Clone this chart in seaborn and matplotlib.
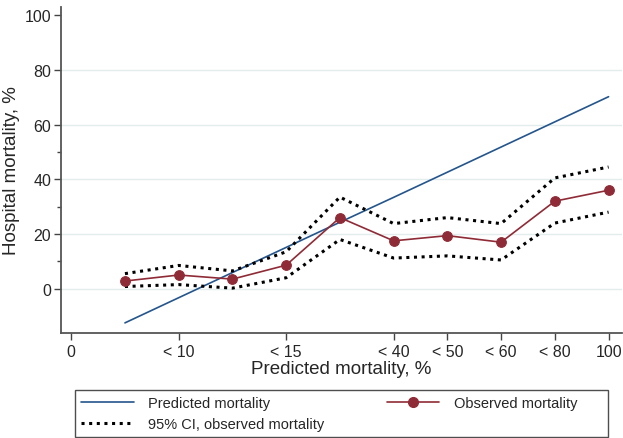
import matplotlib
matplotlib.use("Agg")
import matplotlib.pyplot as plt
import seaborn as sns
import numpy as np
import pandas as pd
from matplotlib.lines import Line2D

# category index on the x axis (1..10)
pos = [1, 2, 3, 4, 5, 6, 7, 8, 9, 10]
predicted = [-12.5, -3.3, 5.9, 15.1, 24.3, 33.4, 42.6, 51.8, 61.0, 70.2]
observed = [2.8, 5.0, 3.5, 8.6, 26.0, 17.5, 19.4, 17.0, 32.0, 36.0]
ci_upper = [5.5, 8.5, 6.5, 13.5, 33.5, 23.8, 26.0, 23.8, 40.5, 44.5]
ci_lower = [0.8, 1.5, 0.2, 4.0, 18.0, 11.2, 12.0, 10.5, 24.0, 28.0]

xtick_pos = [0, 2, 4, 6, 7, 8, 9, 10]
xtick_labels = ["0", "< 10", "< 15", "< 40", "< 50", "< 60", "< 80", "100"]

df = pd.DataFrame({"pos": pos, "pred": predicted, "obs": observed,
                   "hi": ci_upper, "lo": ci_lower})

sns.set_style("white")
plt.rcParams["font.family"] = ["Liberation Sans", "DejaVu Sans"]

fig = plt.figure(figsize=(6.23, 4.39), dpi=100)
ax = fig.add_axes([61/623, 1-334/439, 561/623, 326/439])

blue = "#24558c"
red = "#8f2b36"
dots = (0, (1, 1.5))

sns.lineplot(data=df, x="pos", y="pred", ax=ax, color=blue, lw=1.2)
sns.lineplot(data=df, x="pos", y="hi", ax=ax, color="black", lw=2.2, linestyle=dots)
sns.lineplot(data=df, x="pos", y="lo", ax=ax, color="black", lw=2.2, linestyle=dots)
sns.lineplot(data=df, x="pos", y="obs", ax=ax, color=red, lw=1.2,
             marker="o", markersize=7, markeredgecolor=red)

ax.set_xlim(-0.19, 10.25)
ax.set_ylim(-16.2, 103)
ax.set_xticks(xtick_pos)
ax.set_xticklabels(xtick_labels)
ax.set_yticks([0, 20, 40, 60, 80, 100])
ax.set_yticks([10, 30, 50], minor=True)
ax.tick_params(axis="both", which="major", direction="out", length=5, width=1,
               color="#444444", labelsize=11.5, bottom=True, left=True, pad=2)
ax.tick_params(axis="x", which="major", pad=3)
ax.tick_params(axis="y", which="minor", direction="out", length=3, width=1,
               color="#444444", left=True)

ax.yaxis.grid(True, color="#e3eded", lw=1)
ax.yaxis.get_gridlines()[-1].set_visible(False)
ax.set_axisbelow(True)

for s in ["top", "right"]:
    ax.spines[s].set_visible(False)
for s in ["left", "bottom"]:
    ax.spines[s].set_color("#555555")
    ax.spines[s].set_linewidth(1.3)

ax.set_xlabel("Predicted mortality, %", fontsize=13.5, labelpad=1)
ax.set_ylabel("Hospital mortality, %", fontsize=13.5, labelpad=3)

handles = [Line2D([], [], color=blue, lw=1.2),
           Line2D([], [], color="black", lw=2.2, linestyle=dots),
           Line2D([], [], color=red, lw=1.2, marker="o", markersize=7)]
labels = ["Predicted mortality", "95% CI, observed mortality",
          "Observed mortality      "]
leg = fig.legend(handles, labels, loc="upper left", ncol=2, mode="expand",
                 bbox_to_anchor=(68/623, 1-384/439, 547/623, 0.0),
                 frameon=True, fancybox=False, fontsize=10.5,
                 handlelength=3.6, handletextpad=1.0, borderpad=0.4,
                 labelspacing=0.45, columnspacing=4)
leg.get_frame().set_edgecolor("#222222")
leg.get_frame().set_linewidth(1.0)

fig.savefig("out.png", dpi=100)
